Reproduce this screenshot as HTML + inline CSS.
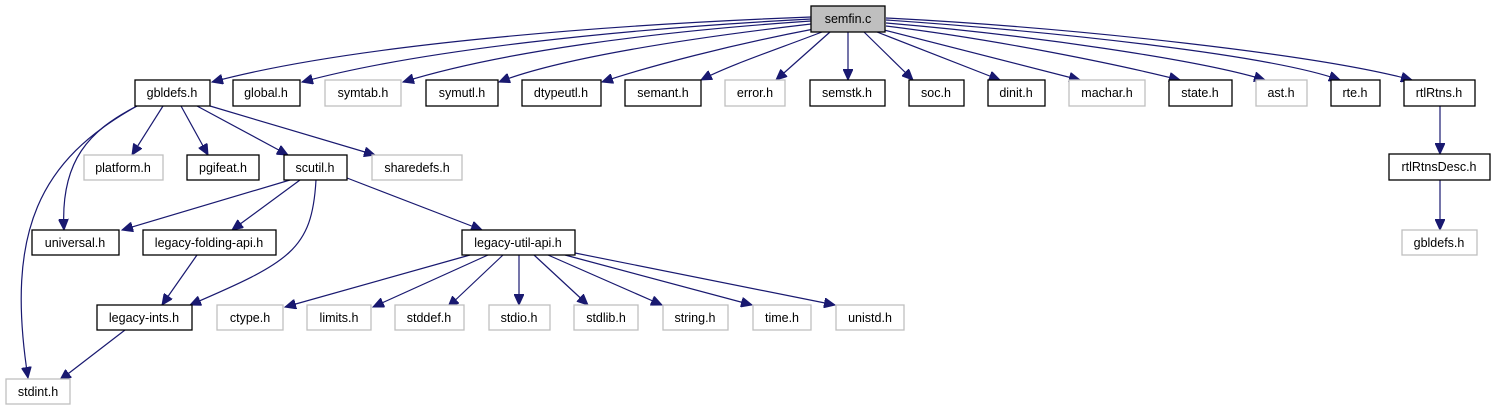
<!DOCTYPE html>
<html><head><meta charset="utf-8"><style>
html,body{margin:0;padding:0;background:#fff}
svg{display:block}
text{font-family:"Liberation Sans",Arial,sans-serif;font-size:12.5px;fill:#000;text-anchor:middle}
.b{fill:#fff;stroke:#000;stroke-width:1.3}
.g{fill:#fff;stroke:#bfbfbf;stroke-width:1.3}
.e{fill:none;stroke:#191970;stroke-width:1.2}
</style></head><body>
<svg width="1495" height="411" viewBox="0 0 1495 411">
<defs><marker id="a" markerUnits="userSpaceOnUse" markerWidth="12" markerHeight="10" refX="11" refY="5" orient="auto"><path d="M0,0 L11,5 L0,10 z" fill="#191970" stroke="#191970"/></marker></defs>
<g class="e" marker-end="url(#a)">
<path d="M811,17 C600,25 350,45 212,82"/>
<path d="M811,19 C620,29 420,50 302,82"/>
<path d="M811,21 C650,32 500,52 403,82"/>
<path d="M811,24 C690,38 560,58 499,82"/>
<path d="M814,29 C730,45 650,66 602,82"/>
<path d="M822,32 C775,50 730,65 701,80"/>
<path d="M830,32 L776,80"/>
<path d="M848,32 L848,80"/>
<path d="M864,32 L913,80"/>
<path d="M877,32 L1000,80"/>
<path d="M884,30 L1080,80"/>
<path d="M886,26 C1000,40 1120,65 1180,80"/>
<path d="M886,23 C1030,35 1200,60 1265,80"/>
<path d="M886,20 C1060,32 1270,55 1340,80"/>
<path d="M886,18 C1080,28 1320,55 1412,80"/>
<path d="M1440,106 L1440,154"/>
<path d="M1440,180 L1440,230"/>
<path d="M163,106 L132,155"/>
<path d="M181,106 L208,155"/>
<path d="M197,106 L288,155"/>
<path d="M210,106 L375,155"/>
<path d="M137,106 C90,130 60,160 64,230"/>
<path d="M137,106 C40,160 5,230 28,378"/>
<path d="M290,180 L122,230"/>
<path d="M300,180 L232,230"/>
<path d="M316,180 C312,250 290,262 190,305"/>
<path d="M347,178 L482,230"/>
<path d="M197,255 L162,305"/>
<path d="M125,330 L60,380"/>
<path d="M470,255 L285,307"/>
<path d="M488,255 L373,307"/>
<path d="M503,255 L448,307"/>
<path d="M519,255 L519,305"/>
<path d="M534,255 L588,305"/>
<path d="M548,255 L662,305"/>
<path d="M565,255 L752,305"/>
<path d="M575,253 L835,305"/>
</g>
<rect x="811" y="6" width="74" height="26" fill="#bfbfbf" stroke="#000" stroke-width="1.3"/><text x="848" y="23">semfin.c</text>
<rect class="b" x="135" y="80" width="75" height="26"/><text x="172" y="97">gbldefs.h</text>
<rect class="b" x="233" y="80" width="67" height="26"/><text x="266" y="97">global.h</text>
<rect class="g" x="325" y="80" width="76" height="26"/><text x="363" y="97">symtab.h</text>
<rect class="b" x="426" y="80" width="72" height="26"/><text x="462" y="97">symutl.h</text>
<rect class="b" x="522" y="80" width="79" height="26"/><text x="561" y="97">dtypeutl.h</text>
<rect class="b" x="625" y="80" width="76" height="26"/><text x="663" y="97">semant.h</text>
<rect class="g" x="725" y="80" width="60" height="26"/><text x="755" y="97">error.h</text>
<rect class="b" x="810" y="80" width="75" height="26"/><text x="847" y="97">semstk.h</text>
<rect class="b" x="909" y="80" width="55" height="26"/><text x="936" y="97">soc.h</text>
<rect class="b" x="988" y="80" width="57" height="26"/><text x="1016" y="97">dinit.h</text>
<rect class="g" x="1069" y="80" width="76" height="26"/><text x="1107" y="97">machar.h</text>
<rect class="b" x="1169" y="80" width="63" height="26"/><text x="1200" y="97">state.h</text>
<rect class="g" x="1256" y="80" width="51" height="26"/><text x="1281" y="97">ast.h</text>
<rect class="b" x="1331" y="80" width="49" height="26"/><text x="1355" y="97">rte.h</text>
<rect class="b" x="1404" y="80" width="71" height="26"/><text x="1439" y="97">rtlRtns.h</text>
<rect class="b" x="1389" y="154" width="101" height="26"/><text x="1439" y="171">rtlRtnsDesc.h</text>
<rect class="g" x="1402" y="230" width="75" height="25"/><text x="1439" y="247">gbldefs.h</text>
<rect class="g" x="84" y="155" width="79" height="25"/><text x="123" y="172">platform.h</text>
<rect class="b" x="187" y="155" width="72" height="25"/><text x="223" y="172">pgifeat.h</text>
<rect class="b" x="284" y="155" width="63" height="25"/><text x="315" y="172">scutil.h</text>
<rect class="g" x="372" y="155" width="90" height="25"/><text x="417" y="172">sharedefs.h</text>
<rect class="b" x="32" y="230" width="87" height="25"/><text x="75" y="247">universal.h</text>
<rect class="b" x="143" y="230" width="133" height="25"/><text x="209" y="247">legacy-folding-api.h</text>
<rect class="b" x="462" y="230" width="113" height="25"/><text x="518" y="247">legacy-util-api.h</text>
<rect class="b" x="97" y="305" width="95" height="25"/><text x="144" y="322">legacy-ints.h</text>
<rect class="g" x="217" y="305" width="66" height="25"/><text x="250" y="322">ctype.h</text>
<rect class="g" x="307" y="305" width="64" height="25"/><text x="339" y="322">limits.h</text>
<rect class="g" x="395" y="305" width="69" height="25"/><text x="429" y="322">stddef.h</text>
<rect class="g" x="489" y="305" width="61" height="25"/><text x="519" y="322">stdio.h</text>
<rect class="g" x="574" y="305" width="64" height="25"/><text x="606" y="322">stdlib.h</text>
<rect class="g" x="663" y="305" width="65" height="25"/><text x="695" y="322">string.h</text>
<rect class="g" x="753" y="305" width="58" height="25"/><text x="782" y="322">time.h</text>
<rect class="g" x="836" y="305" width="68" height="25"/><text x="870" y="322">unistd.h</text>
<rect class="g" x="6" y="379" width="64" height="25"/><text x="38" y="396">stdint.h</text>
</svg>
</body></html>
